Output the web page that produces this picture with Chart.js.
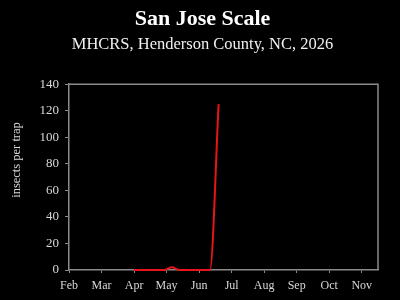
<!DOCTYPE html>
<html>
<head>
<meta charset="utf-8">
<script src="https://cdn.jsdelivr.net/npm/chart.js@4/dist/chart.umd.min.js"></script>
<style>
html,body{margin:0;padding:0;background:#000;}
#wrap{width:400px;height:300px;}
</style>
</head>
<body>
<div id="wrap"><canvas id="c" width="400" height="300"></canvas></div>
<script>
const titleText = 'San Jose Scale';
const subtitleText = 'MHCRS, Henderson County, NC, 2026';
const yAxisTitle = 'insects per trap';
const monthLabels = ['Feb','Mar','Apr','May','Jun','Jul','Aug','Sep','Oct','Nov'];
const yTicks = [0,20,40,60,80,100,120,140];
const sampleDates = ['2026-04-01','2026-04-08','2026-04-15','2026-04-22','2026-04-29','2026-05-06','2026-05-13','2026-05-20','2026-05-27','2026-06-03','2026-06-11','2026-06-19'];
const insectsPerTrap = [0,0,0,0,0,2,0,0,0,0,0,125];

function monthPos(s){
  const [y,m,d] = s.split('-').map(Number);
  const days = new Date(y, m, 0).getDate();
  return (m - 2) + (d - 1) / days;
}
const points = sampleDates.map((d,i)=>({x: monthPos(d), y: insectsPerTrap[i]}));

const serif = "'Liberation Serif', 'DejaVu Serif', serif";
const axisColor = '#8a8a8a';
const textColor = '#d8d8d8';

const framePlugin = {
  id: 'frame',
  beforeDatasetsDraw(chart){
    const {ctx, chartArea:a} = chart;
    ctx.save();
    ctx.strokeStyle = axisColor;
    ctx.lineWidth = 1.5;
    ctx.beginPath();
    ctx.moveTo(a.left, a.top); ctx.lineTo(a.right, a.top); ctx.lineTo(a.right, a.bottom);
    ctx.stroke();
    ctx.restore();
  },
  afterDraw(chart){
    const {ctx} = chart;
    ctx.save();
    ctx.fillStyle = textColor;
    ctx.font = "12.5px " + serif;
    ctx.textAlign = 'center';
    ctx.textBaseline = 'middle';
    ctx.translate(17, 160);
    ctx.rotate(-Math.PI/2);
    ctx.fillText(yAxisTitle, 0, 0);
    ctx.restore();
  }
};

new Chart(document.getElementById('c'), {
  type: 'line',
  data: {
    datasets: [{
      data: points,
      borderColor: '#e8141a',
      borderWidth: 2,
      pointRadius: 0,
      fill: false,
      cubicInterpolationMode: 'monotone',
      clip: false
    }]
  },
  options: {
    responsive: false,
    animation: false,
    devicePixelRatio: 1,
    layout: {padding: {top: 6, left: 27, right: 22, bottom: 0}},
    plugins: {
      legend: {display: false},
      tooltip: {enabled: false},
      title: {display: true, text: titleText, color: '#ffffff',
        font: {family: serif, size: 22, weight: 'bold'}, padding: {top: 0, bottom: 2}},
      subtitle: {display: true, text: subtitleText, color: '#f0f0f0',
        font: {family: serif, size: 16.5}, padding: {top: 0, bottom: 30}}
    },
    scales: {
      x: {
        type: 'linear', min: 0, max: 9.5,
        afterBuildTicks: s => { s.ticks = monthLabels.map((m,i)=>({value:i})); },
        afterFit: s => { s.height = 30; },
        ticks: {callback: (v)=>monthLabels[v] ?? '', color: textColor,
          font: {family: serif, size: 12}, padding: 6, maxRotation: 0, autoSkip: false},
        grid: {display: true, drawOnChartArea: false, drawTicks: true, tickLength: 3, color: axisColor},
        border: {display: true, color: axisColor, width: 1.5}
      },
      y: {
        min: 0, max: 140,
        afterBuildTicks: s => { s.ticks = yTicks.map(v=>({value:v})); },
        afterFit: s => { s.width = 42; },
        ticks: {color: textColor, font: {family: serif, size: 13}, padding: 6},
        grid: {display: true, drawOnChartArea: false, drawTicks: true, tickLength: 4, color: axisColor},
        border: {display: true, color: axisColor, width: 1.5}
      }
    }
  },
  plugins: [framePlugin]
});
</script>
</body>
</html>
